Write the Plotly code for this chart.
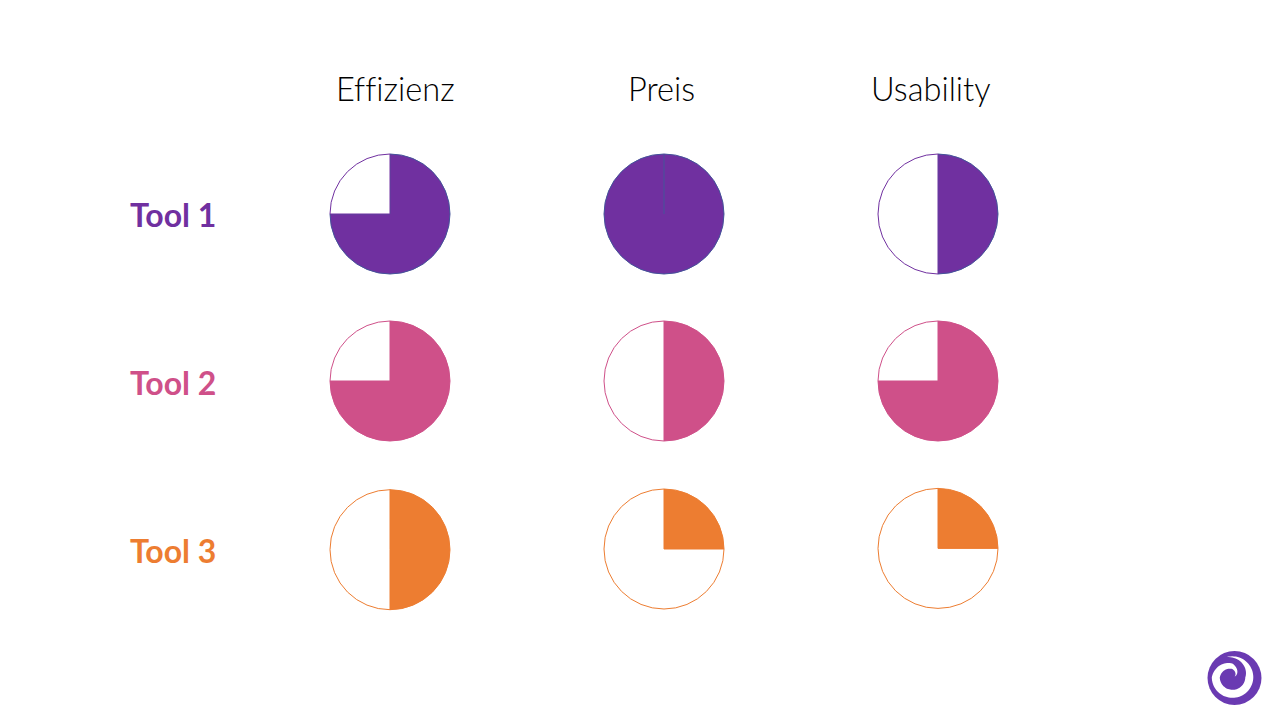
import numpy as np
import plotly.graph_objects as go

# Bewertung der Tools als Anteil in Prozent
tools = ["Tool 1", "Tool 2", "Tool 3"]
kriterien = ["Effizienz", "Preis", "Usability"]
effizienz = [75, 75, 50]
preis = [100, 50, 25]
usability = [50, 75, 25]
farben = ["#7030A0", "#CF5089", "#ED7D31"]
rand_farben = ["#44549A", "#CF5089", "#ED7D31"]

W, H = 1280, 720
spalten_x = [390, 664, 938]
# die Kreise in der untersten Zeile sitzen nicht ganz auf einer Linie
zeilen_y = [[214, 381, 549.7], [214, 381, 549], [214, 381, 548.4]]
radius = 60

fig = go.Figure()

for s, werte in enumerate([effizienz, preis, usability]):
    for z, wert in enumerate(werte):
        cx, cy = spalten_x[s], zeilen_y[s][z]
        fig.add_trace(go.Pie(
            values=[wert, 100 - wert],
            sort=False,
            direction="clockwise",
            rotation=0,
            textinfo="none",
            hoverinfo="skip",
            showlegend=False,
            marker=dict(colors=[farben[z], "white"],
                        line=dict(color=[rand_farben[z], farben[z]], width=1)),
            domain=dict(x=[(cx - radius) / W, (cx + radius) / W],
                        y=[1 - (cy + radius) / H, 1 - (cy - radius) / H]),
        ))

# voller Kreis: Naht von der Mitte nach oben
fig.add_shape(type="line", xref="paper", yref="paper", line=dict(color=rand_farben[0], width=1),
              x0=spalten_x[1] / W, x1=spalten_x[1] / W,
              y0=1 - zeilen_y[1][0] / H, y1=1 - (zeilen_y[1][0] - radius) / H)

# Spaltentitel
for s, name in enumerate(kriterien):
    fig.add_annotation(x=[395, 661, 930.5][s] / W, y=1 - 88 / H, xref="paper", yref="paper",
                       xanchor="center", yanchor="middle", text=name, showarrow=False,
                       font=dict(family="Lato", size=32.6, color="#000000", weight=300))

# Zeilentitel
for z, name in enumerate(tools):
    fig.add_annotation(x=172.5 / W, y=1 - [214, 382, 550][z] / H, xref="paper", yref="paper",
                       xanchor="center", yanchor="middle", text=name, showarrow=False,
                       font=dict(family="Lato", size=32, color=farben[z], weight=700))

# Logo unten rechts: weisse Spirale auf violettem Kreis
lx, ly, lr = 1234.5, 678, 27
fig.add_shape(type="circle", xref="paper", yref="paper", line_width=0, fillcolor="#6A3AB2",
              x0=(lx - lr) / W, x1=(lx + lr) / W, y0=1 - (ly + lr) / H, y1=1 - (ly - lr) / H)

grad = np.linspace(20, 465, 90)
r = np.interp(grad, [20, 90, 180, 270, 360, 465], [3, 11, 16.5, 16.5, 17, 21])
breite = np.interp(grad, [20, 90, 180, 360, 465], [1, 5.5, 8, 8, 0])
bogen = np.radians(grad)
außen = r + breite / 2
innen = r - breite / 2
xs = np.concatenate([1232.3 + außen * np.cos(bogen), (1232.3 + innen * np.cos(bogen))[::-1]])
ys = np.concatenate([677.3 - außen * np.sin(bogen), (677.3 - innen * np.sin(bogen))[::-1]])
pfad = "M " + " L ".join(f"{a / W:.5f},{1 - b / H:.5f}" for a, b in zip(xs, ys)) + " Z"
fig.add_shape(type="path", path=pfad, xref="paper", yref="paper", line_width=0, fillcolor="white")

fig.update_layout(width=W, height=H, margin=dict(l=0, r=0, t=0, b=0),
                  paper_bgcolor="white", plot_bgcolor="white")

# Ligaturen aus, sonst wird aus "ffi" ein einziges Zeichen
js = """
document.body.style.margin = '0';
document.querySelectorAll('.annotation-text').forEach(function (t) {
    t.style.fontVariantLigatures = 'none';
});
"""
fig.write_html("out.html", config={"displayModeBar": False}, post_script=js)
